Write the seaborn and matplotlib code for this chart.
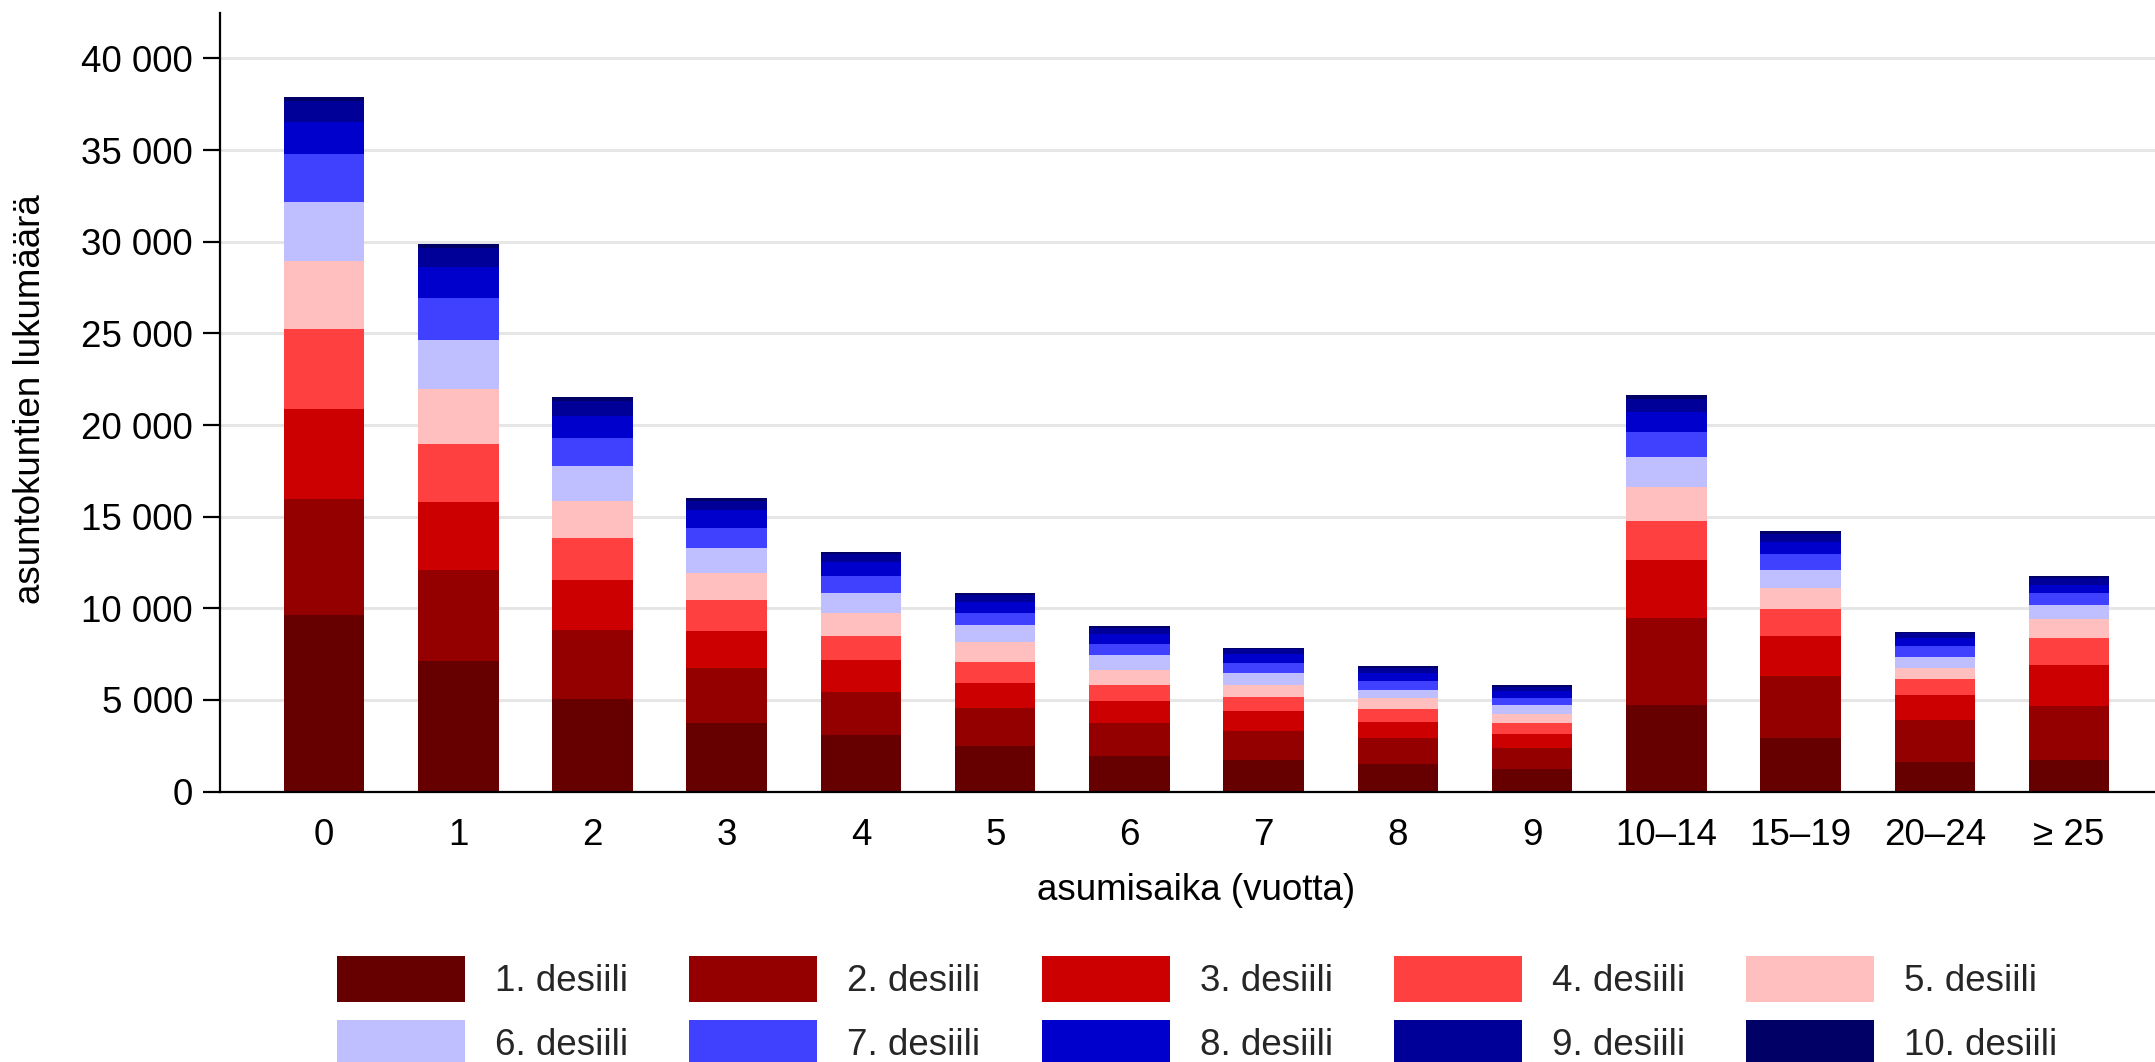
import matplotlib
matplotlib.use("Agg")
import matplotlib.pyplot as plt
from matplotlib.patches import Patch
from matplotlib.ticker import FuncFormatter
import numpy as np
import seaborn as sns

# Housing duration classes (years)
categories = ["0", "1", "2", "3", "4", "5", "6", "7", "8", "9",
              "10–14", "15–19", "20–24", "≥ 25"]

# Number of households per income decile in each duration class
d1 = [9650, 7120, 5070, 3740, 3100, 2480, 1970, 1730, 1520, 1240, 4740, 2950, 1640, 1750]
d2 = [6340, 4960, 3720, 2990, 2360, 2080, 1750, 1570, 1390, 1150, 4750, 3350, 2280, 2940]
d3 = [4890, 3710, 2750, 2040, 1700, 1390, 1220, 1080, 890, 770, 3130, 2200, 1350, 2210]
d4 = [4340, 3180, 2300, 1710, 1330, 1100, 880, 790, 680, 570, 2150, 1480, 880, 1500]
d5 = [3710, 3010, 2040, 1440, 1240, 1090, 820, 660, 600, 530, 1840, 1130, 600, 1040]
d6 = [3230, 2680, 1860, 1350, 1080, 930, 790, 660, 490, 490, 1660, 1000, 570, 750]
d7 = [2610, 2280, 1570, 1130, 970, 690, 600, 530, 460, 370, 1370, 840, 600, 640]
d8 = [1780, 1680, 1200, 950, 730, 600, 550, 470, 460, 360, 1070, 660, 440, 460]
d9 = [1100, 1030, 800, 530, 460, 370, 350, 270, 270, 240, 730, 470, 290, 370]
d10 = [250, 250, 200, 140, 120, 100, 90, 80, 70, 70, 200, 130, 80, 100]

decile_labels = ["1. desiili", "2. desiili", "3. desiili", "4. desiili", "5. desiili",
                 "6. desiili", "7. desiili", "8. desiili", "9. desiili", "10. desiili"]
decile_colors = ["#660000", "#940000", "#CC0000", "#FF4040", "#FFBFBF",
                 "#BFBFFF", "#4040FF", "#0000CC", "#000099", "#000066"]

series = [d1, d2, d3, d4, d5, d6, d7, d8, d9, d10]

sns.set_theme(style="white")
plt.rcParams["font.family"] = ["Liberation Sans", "DejaVu Sans"]
FS = 26.5

fig = plt.figure(figsize=(21.55, 10.62), dpi=100)
ax = fig.add_axes([0.1021, 0.2546, 0.8979, 0.7334])

# Stacked bars: draw cumulative totals from the top segment downwards
cum = np.cumsum(np.array(series, dtype=float), axis=0)
for k in range(len(series) - 1, -1, -1):
    sns.barplot(x=categories, y=cum[k], order=categories, color=decile_colors[k],
                width=0.6, saturation=1, edgecolor="none", linewidth=0, ax=ax, zorder=3)

ax.set_xlim(-0.775, 13.64)
ax.set_ylim(0, 42490)
ax.set_yticks(np.arange(0, 40001, 5000))
ax.yaxis.set_major_formatter(FuncFormatter(lambda v, p: f"{v:,.0f}".replace(",", " ")))

ax.grid(axis="y", color="#E6E6E6", linewidth=2.2, zorder=0)
ax.grid(axis="x", visible=False)
ax.set_axisbelow(True)

for side in ("top", "right"):
    ax.spines[side].set_visible(False)
for side in ("left", "bottom"):
    ax.spines[side].set_color("black")
    ax.spines[side].set_linewidth(1.6)
    ax.spines[side].set_zorder(5)

ax.tick_params(axis="y", which="major", left=True, length=12.5, width=1.6,
               color="black", pad=7, labelsize=FS, labelcolor="black")
ax.tick_params(axis="x", which="major", bottom=False, length=0, pad=19,
               labelsize=FS, labelcolor="black")
ax.set_xlabel("")
ax.set_ylabel("")

fig.text(1196 / 2155, 1 - 890 / 1062, "asumisaika (vuotta)", ha="center", va="center",
         fontsize=FS, color="black")
fig.text(31 / 2155, 1 - 399 / 1062, "asuntokuntien lukumäärä", ha="center", va="center",
         rotation=90, fontsize=FS, color="black")

# Legend laid out row by row: deciles 1–5 on top, 6–10 below
handles = [Patch(facecolor=c, edgecolor="none") for c in decile_colors]
order = [0, 5, 1, 6, 2, 7, 3, 8, 4, 9]
fig.legend([handles[i] for i in order], [decile_labels[i] for i in order],
           ncol=5, loc="upper left", bbox_to_anchor=(337 / 2155, 1 - 956 / 1062),
           frameon=False, fontsize=FS, borderpad=0, borderaxespad=0,
           handlelength=3.48, handleheight=1.545, handletextpad=0.815,
           columnspacing=1.66, labelspacing=0.5)

fig.savefig("out.png", dpi=100)
